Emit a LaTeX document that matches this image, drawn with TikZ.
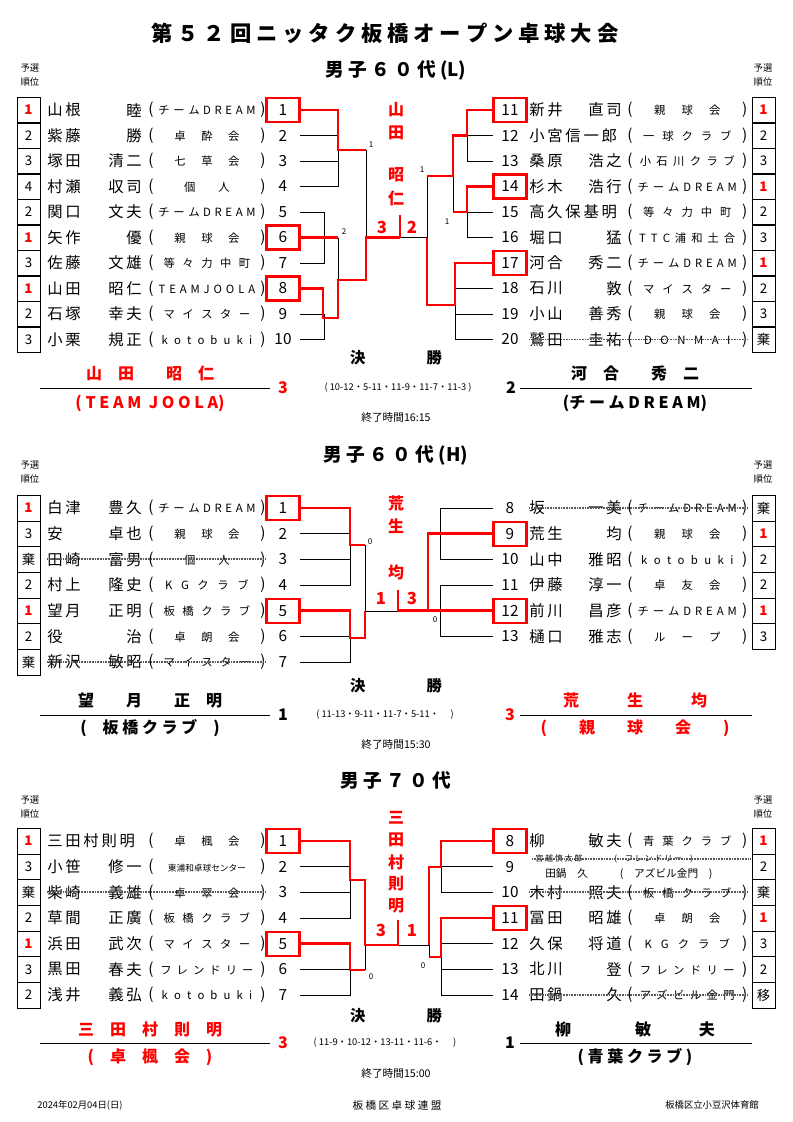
\documentclass[tikz,border=0pt]{standalone}
\usepackage{fontspec}
\setmainfont{Noto Sans CJK JP}
\newfontfamily\nmfont[LetterSpace=18]{Noto Sans CJK JP}
\usetikzlibrary{positioning}
\newcommand{\rone}{\textcolor{red}{\bfseries 1}}
% one entry on the left / right half
\newcommand{\lrow}[8][num]{%
  \node[rank] (#2r) at (28.5,#3) {#4};
  \node[nm,anchor=west] (#2f) at (47,#3) {#5};
  \node[nm,anchor=east] (#2g) at (142,#3) {#6};
  \node[club,anchor=west] (#2c) at (148,#3) {\makebox[88pt][s]{(\ {\fontsize{8.5}{9}\selectfont #7}\ )}};
  \node[#1] (#2) at (283,#3) {#8};}
\newcommand{\rrow}[8][num]{%
  \node[#1] (#2) at (510,#3) {#8};
  \node[nm,anchor=west] (#2f) at (529,#3) {#5};
  \node[nm,anchor=east] (#2g) at (622,#3) {#6};
  \node[club,anchor=west] (#2c) at (627,#3) {\makebox[90pt][s]{(\ {\fontsize{8.5}{9}\selectfont #7}\ )}};
  \node[rank] (#2r) at (763.5,#3) {#4};}

\begin{document}
\begin{tikzpicture}[x=0.75pt,y=-0.75pt,
  rank/.style={draw, minimum width=17.25pt, minimum height=19.2pt, inner sep=0pt, font=\fontsize{10}{10}\selectfont},
  nm/.style={inner sep=0pt, font=\nmfont\fontsize{11.5}{11.5}\selectfont},
  club/.style={inner sep=0pt, font=\fontsize{11.5}{11.5}\selectfont},
  num/.style={minimum width=24.75pt, minimum height=18pt, inner sep=0pt, font=\fontsize{11.5}{11.5}\selectfont},
  box/.style={num, draw=red, line width=1.6pt},
  br/.style={line width=0.6pt},
  win/.style={draw=red, line width=2pt},
  strike/.style={gray!70!black, line width=1.4pt, dash pattern=on 0.8pt off 0.4pt},
  sc/.style={inner sep=0pt, font=\fontsize{6}{6}\selectfont},
  fin/.style={inner sep=0pt, text=red, font=\bfseries\fontsize{12}{12}\selectfont},
  ttl/.style={inner sep=0pt, font=\bfseries\fontsize{14}{14}\selectfont},
  sm/.style={inner sep=0pt, font=\fontsize{7}{7}\selectfont}]
\useasboundingbox (0,0) rectangle (793,1122);

\node[inner sep=0pt, font=\bfseries\fontsize{16}{16}\selectfont] (title) at (385,33) {第\ ５\ ２\ 回\ ニ\ ッ\ タ\ ク\ 板\ 橋\ オ\ ー\ プ\ ン\ 卓\ 球\ 大\ 会};

% ---------- 男子60代(L)
\node[ttl] (t1) at (396,70) {男\ 子\ ６\ ０\ 代\ (L)};
\node[sm, align=center] (y1l) at (30,75) {予選\\[3pt]順位};
\node[sm, align=center] (y1r) at (763,75) {予選\\[3pt]順位};
\lrow[box]{a1}{110}{\rone}{山根}{睦}{チ ー ム D R E A M}{1}
\lrow{a2}{135.5}{2}{紫藤}{勝}{卓 酔 会}{2}
\lrow{a3}{161}{3}{塚田}{清二}{七 草 会}{3}
\lrow{a4}{186.5}{4}{村瀬}{収司}{個 人}{4}
\lrow{a5}{212}{2}{関口}{文夫}{チ ー ム D R E A M}{5}
\lrow[box]{a6}{237.5}{\rone}{矢作}{優}{親 球 会}{6}
\lrow{a7}{263}{3}{佐藤}{文雄}{等 々 力 中 町}{7}
\lrow[box]{a8}{288.5}{\rone}{山田}{昭仁}{T E A M J O O L A}{8}
\lrow{a9}{314}{2}{石塚}{幸夫}{マ イ ス タ ー}{9}
\lrow{a10}{339.5}{3}{小栗}{規正}{k o t o b u k i}{10}
\rrow[box]{b11}{110}{\rone}{新井}{直司}{親 球 会}{11}
\rrow{b12}{135.5}{2}{小宮信一郎}{}{一 球 ク ラ ブ}{12}
\rrow{b13}{161}{3}{桑原}{浩之}{小 石 川 ク ラ ブ}{13}
\rrow[box]{b14}{186.5}{\rone}{杉木}{浩行}{チ ー ム D R E A M}{14}
\rrow{b15}{212}{2}{高久保基明}{}{等 々 力 中 町}{15}
\rrow{b16}{237.5}{3}{堀口}{猛}{T T C 浦 和 土 合}{16}
\rrow[box]{b17}{263}{\rone}{河合}{秀二}{チ ー ム D R E A M}{17}
\rrow{b18}{288.5}{2}{石川}{敦}{マ イ ス タ ー}{18}
\rrow{b19}{314}{3}{小山}{善秀}{親 球 会}{19}
\rrow{b20}{339.5}{棄}{鷲田}{圭祐}{D O N M A I}{20}
\draw[strike] (b20f.west) -- (b20c.east);
% left half
\draw[br] (a2.east) -- (338,135.5) (a3.east) -- (338,161) (a4.east) -- (338,186.5) -- (338,135.5);
\draw[br] (366,150) -- (366,237.5);
\draw[br] (a5.east) -- (324,212) -- (324,263) -- (a7.east);
\draw[br] (338,237.5) -- (338,280);
\draw[br] (a9.east) -- (324,314) -- (324,339.5) -- (a10.east);
\draw[win] (a1.east) -- (338,110) -- (338,150) -- (366,150);
\draw[win] (a6.east) -- (338,237.5);
\draw[win] (a8.east) -- (323,288.5) -- (323,318) -- (338,318) -- (338,280) -- (366,280) -- (366,237.5) -- (400,237.5);
% right half
\draw[br] (400,237.5) -- (427,237.5) -- (427,176);
\draw[br] (b12.west) -- (467,135.5) -- (467,161) -- (b13.west);
\draw[br] (453,176) -- (453,212);
\draw[br] (b15.west) -- (467,212) (b16.west) -- (467,237.5) -- (467,212);
\draw[br] (b18.west) -- (455,288.5) (b19.west) -- (455,314) (b20.west) -- (455,339.5) -- (455,263);
\draw[win] (427,176) -- (453,176) -- (453,135.5) -- (467,135.5) -- (467,110) -- (b11.west);
\draw[win] (b14.west) -- (467,186.5) -- (467,212) -- (453,212);
\draw[win] (427,237.5) -- (427,305) -- (455,305) -- (455,263) -- (b17.west);
\draw[win] (400,215) -- (400,237.5);
\node[sc] (s1a) at (371,145) {1};
\node[sc] (s1b) at (344,232) {2};
\node[sc] (s1c) at (422,170) {1};
\node[sc] (s1d) at (447,222) {1};
\node[fin] (w1a) at (396,110) {山};
\node[fin] (w1b) at (396,133) {田};
\node[fin] (w1c) at (396,175) {昭};
\node[fin] (w1d) at (396,198) {仁};
\node[fin, font=\bfseries\fontsize{12.5}{12.5}\selectfont] (p1l) at (382,227) {3};
\node[fin, font=\bfseries\fontsize{12.5}{12.5}\selectfont] (p1r) at (412,227) {2};
% final
\node[ttl, font=\bfseries\fontsize{11.5}{11.5}\selectfont] (k1) at (396,358) {決\hspace{4em}勝};
\node[fin] (n1l) at (150,373) {山\quad 田\qquad 昭\quad 仁};
\node[fin] (c1l) at (150,403) {(\ T\ E\ A\ M\ \ J\ O\ O\ L\ A)};
\node[fin] (g1l) at (283,388) {3};
\node[sc, font=\fontsize{7}{7}\selectfont] (r1) at (398,388) {(\ 10-12・5-11・11-9・11-7・11-3\ )};
\node[fin, text=black] (g1r) at (511,388) {2};
\node[fin, text=black] (n1r) at (635,373) {河\quad 合\qquad 秀\quad 二};
\node[fin, text=black] (c1r) at (635,403) {(チ ー ム D R E A M)};
\node[sm, font=\fontsize{8}{8}\selectfont] (e1) at (396,417) {終了時間16:15};
\draw[br] (40,388) -- (270,388) (520,388) -- (752,388);

% ---------- 男子60代(H)
\node[ttl] (t2) at (396,455) {男\ 子\ ６\ ０\ 代\ (H)};
\node[sm, align=center] (y2l) at (30,472) {予選\\[3pt]順位};
\node[sm, align=center] (y2r) at (763,472) {予選\\[3pt]順位};
\lrow[box]{c1}{508}{\rone}{白津}{豊久}{チ ー ム D R E A M}{1}
\lrow{c2}{533.7}{3}{安}{卓也}{親 球 会}{2}
\lrow{c3}{559.3}{棄}{田崎}{富男}{個 人}{3}
\lrow{c4}{585}{2}{村上}{隆史}{K G ク ラ ブ}{4}
\lrow[box]{c5}{610.7}{\rone}{望月}{正明}{板 橋 ク ラ ブ}{5}
\lrow{c6}{636.3}{2}{役}{治}{卓 朗 会}{6}
\lrow{c7}{662}{棄}{新沢}{敏昭}{マ イ ス タ ー}{7}
\rrow{d8}{508}{棄}{坂}{一美}{チ ー ム D R E A M}{8}
\rrow[box]{d9}{533.7}{\rone}{荒生}{均}{親 球 会}{9}
\rrow{d10}{559.3}{2}{山中}{雅昭}{k o t o b u k i}{10}
\rrow{d11}{585}{2}{伊藤}{淳一}{卓 友 会}{11}
\rrow[box]{d12}{610.7}{\rone}{前川}{昌彦}{チ ー ム D R E A M}{12}
\rrow{d13}{636.3}{3}{樋口}{雅志}{ル ー プ}{13}
\draw[strike] (c3f.west) -- (c3c.east) (c7f.west) -- (c7c.east) (d8f.west) -- (d8c.east);
\draw[br] (c2.east) -- (350,533.7) (c3.east) -- (350,559.3) (c4.east) -- (350,585) -- (350,533.7);
\draw[br] (365,545) -- (365,611) -- (398,611);
\draw[br] (c6.east) -- (350,636.3) (c7.east) -- (350,662) -- (350,636.3);
\draw[br] (d8.west) -- (440,508) -- (440,559.3) -- (d10.west);
\draw[br] (d11.west) -- (440,585) -- (440,636.3) -- (d13.west);
\draw[win] (c1.east) -- (350,508) -- (350,545) -- (365,545);
\draw[win] (c5.east) -- (350,610.7) -- (350,638) -- (365,638) -- (365,611);
\draw[win] (398,590) -- (398,610.7) -- (d12.west);
\draw[win] (428,610.7) -- (428,533.7) -- (d9.west);
\node[sc] (s2a) at (370,542) {0};
\node[sc] (s2b) at (435,620) {0};
\node[fin] (w2a) at (396,503) {荒};
\node[fin] (w2b) at (396,526) {生};
\node[fin] (w2c) at (396,572) {均};
\node[fin, font=\bfseries\fontsize{12.5}{12.5}\selectfont] (p2l) at (381,598) {1};
\node[fin, font=\bfseries\fontsize{12.5}{12.5}\selectfont] (p2r) at (412,598) {3};
\node[ttl, font=\bfseries\fontsize{11.5}{11.5}\selectfont] (k2) at (396,686) {決\hspace{4em}勝};
\node[fin, text=black] (n2l) at (150,700) {望\qquad 月\qquad 正\quad 明};
\node[fin, text=black] (c2l) at (150,728) {(\quad 板\ 橋\ ク\ ラ\ ブ\quad )};
\node[fin, text=black] (g2l) at (283,715) {1};
\node[sc, font=\fontsize{7}{7}\selectfont] (r2) at (385,715) {(\ 11-13・9-11・11-7・5-11・\quad\ )};
\node[fin] (g2r) at (510,715) {3};
\node[fin] (n2r) at (635,700) {荒\qquad\quad 生\qquad\quad 均};
\node[fin] (c2r) at (635,728) {(\qquad 親\qquad 球\qquad 会\qquad )};
\node[sm, font=\fontsize{8}{8}\selectfont] (e2) at (396,744) {終了時間15:30};
\draw[br] (40,715) -- (270,715) (520,715) -- (752,715);

% ---------- 男子70代
\node[ttl] (t3) at (396,780) {男\ 子\ ７\ ０\ 代};
\node[sm, align=center] (y3l) at (30,807) {予選\\[3pt]順位};
\node[sm, align=center] (y3r) at (763,807) {予選\\[3pt]順位};
\lrow[box]{e1}{841}{\rone}{三田村則明}{}{卓 楓 会}{1}
\lrow{e2}{866.7}{3}{小笹}{修一}{\fontsize{6.5}{7}\selectfont 東浦和卓球センター}{2}
\lrow{e3}{892.3}{棄}{柴崎}{義雄}{卓 翠 会}{3}
\lrow{e4}{918}{2}{草間}{正廣}{板 橋 ク ラ ブ}{4}
\lrow[box]{e5}{943.7}{\rone}{浜田}{武次}{マ イ ス タ ー}{5}
\lrow{e6}{969.3}{3}{黒田}{春夫}{フ レ ン ド リ ー}{6}
\lrow{e7}{995}{2}{浅井}{義弘}{k o t o b u k i}{7}
\rrow[box]{f8}{841}{\rone}{柳}{敏夫}{青 葉 ク ラ ブ}{8}
\node[num] (f9) at (510,866.7) {9};
\node[sm, font=\fontsize{6}{6}\selectfont, anchor=west] (f9a) at (535,859) {宮\ 越\ 慎\ 太\ 郎\qquad\qquad (\quad フ\ レ\ ン\ ド\ リ\ ー\quad )};
\node[sm, font=\fontsize{8}{8}\selectfont, anchor=west] (f9b) at (545,874) {田鍋\quad 久\qquad\quad (\quad アズビル金門\quad )};
\node[rank] (f9r) at (763.5,866.7) {2};
\rrow{f10}{892.3}{棄}{木村}{照夫}{板 橋 ク ラ ブ}{10}
\rrow[box]{f11}{918}{\rone}{冨田}{昭雄}{卓 朗 会}{11}
\rrow{f12}{943.7}{3}{久保}{将道}{K G ク ラ ブ}{12}
\rrow{f13}{969.3}{2}{北川}{登}{フ レ ン ド リ ー}{13}
\rrow{f14}{995}{移}{田鍋}{久}{ア ズ ビ ル 金 門}{14}
\draw[strike] (e3f.west) -- (e3c.east) (f10f.west) -- (f10c.east) (f14f.west) -- (f14c.east);
\draw[strike, line width=1pt] (532,859) -- (750,859);
\draw[br] (e2.east) -- (350,866.7) (e3.east) -- (350,892.3) (e4.east) -- (350,918) -- (350,880);
\draw[br] (365,970) -- (365,945);
\draw[br] (e6.east) -- (350,969.3) (e7.east) -- (350,995) -- (350,969.3);
\draw[br] (398,945) -- (429,945) -- (429,957);
\draw[br] (f9.west) -- (441,866.7) (f10.west) -- (441,892.3) -- (441,867);
\draw[br] (f12.west) -- (441,943.7) (f13.west) -- (441,969.3) (f14.west) -- (441,995) -- (441,957);
\draw[win] (e1.east) -- (350,841) -- (350,880) -- (365,880) -- (365,945) -- (398,945) -- (398,920);
\draw[win] (e5.east) -- (350,943.7) -- (350,970) -- (365,970);
\draw[win] (f8.west) -- (441,841) -- (441,867) -- (429,867) -- (429,945);
\draw[win] (f11.west) -- (441,918) -- (441,957) -- (429,957);
\node[sc] (s3a) at (371,977) {0};
\node[sc] (s3b) at (423,966) {0};
\node[fin] (w3a) at (396,818) {三};
\node[fin] (w3b) at (396,840) {田};
\node[fin] (w3c) at (396,862) {村};
\node[fin] (w3d) at (396,884) {則};
\node[fin] (w3e) at (396,906) {明};
\node[fin, font=\bfseries\fontsize{12.5}{12.5}\selectfont] (p3l) at (381,930) {3};
\node[fin, font=\bfseries\fontsize{12.5}{12.5}\selectfont] (p3r) at (412,930) {1};
\node[ttl, font=\bfseries\fontsize{11.5}{11.5}\selectfont] (k3) at (396,1016) {決\hspace{4em}勝};
\node[fin] (n3l) at (150,1029) {三\quad 田\quad 村\quad 則\quad 明};
\node[fin] (c3l) at (150,1057) {(\quad 卓\quad 楓\quad 会\quad )};
\node[fin] (g3l) at (283,1043) {3};
\node[sc, font=\fontsize{7}{7}\selectfont] (r3) at (385,1043) {(\ 11-9・10-12・13-11・11-6・\quad\ )};
\node[fin, text=black] (g3r) at (510,1043) {1};
\node[fin, text=black] (n3r) at (635,1029) {柳\qquad\qquad 敏\qquad\quad 夫};
\node[fin, text=black] (c3r) at (635,1057) {(\ 青\ 葉\ ク\ ラ\ ブ\ )};
\node[sm, font=\fontsize{8}{8}\selectfont] (e3) at (396,1073) {終了時間15:00};
\draw[br] (40,1043) -- (270,1043) (520,1043) -- (752,1043);

\node[sm] (ft1) at (80,1105) {2024年02月04日(日)};
\node[sm, font=\fontsize{8}{8}\selectfont] (ft2) at (397,1105) {板\ 橋\ 区\ 卓\ 球\ 連\ 盟};
\node[sm] (ft3) at (712,1105) {板橋区立小豆沢体育館};
\end{tikzpicture}
\end{document}
